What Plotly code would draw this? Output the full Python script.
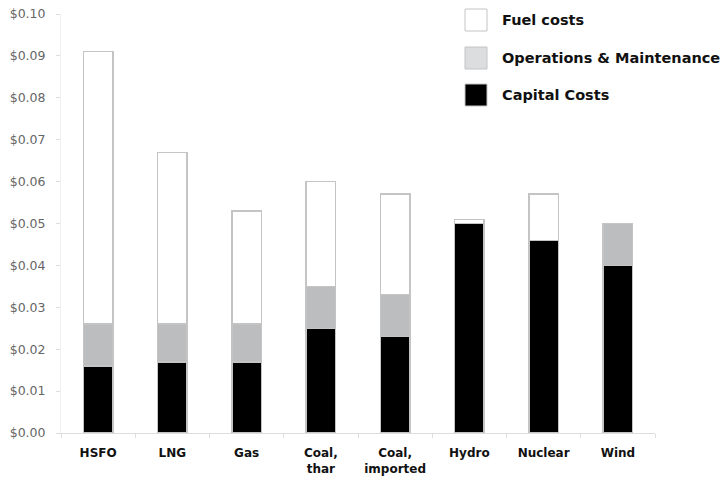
import plotly.graph_objects as go

# Levelised generation cost by technology (USD per kWh)
technologies = ["HSFO", "LNG", "Gas", "Coal,<br>thar", "Coal,<br>imported", "Hydro", "Nuclear", "Wind"]
capital_costs = [0.016, 0.017, 0.017, 0.025, 0.023, 0.050, 0.046, 0.040]
om_costs = [0.010, 0.009, 0.009, 0.010, 0.010, 0.000, 0.000, 0.010]
fuel_costs = [0.065, 0.041, 0.027, 0.025, 0.024, 0.001, 0.011, 0.000]

series_names = ["Fuel costs", "Operations & Maintenance", "Capital Costs"]
swatch_colors = ["#ffffff", "#dcdddf", "#000000"]
edge = "#c4c4c4"
font = "DejaVu Sans"

fig = go.Figure()
for name, vals, color in [
    ("Capital Costs", capital_costs, "#000000"),
    ("Operations & Maintenance", om_costs, "#bcbdbf"),
    ("Fuel costs", fuel_costs, "#ffffff"),
]:
    fig.add_trace(go.Bar(
        x=technologies, y=vals, name=name,
        marker=dict(color=color, line=dict(color=edge, width=1.5)),
        width=0.4, showlegend=False,
    ))

# Hand-drawn legend on the upper right
legend_y = [20, 58, 95]
for name, color, py in zip(series_names, swatch_colors, legend_y):
    y0 = (433 - (py + 11)) / 419
    y1 = (433 - (py - 11)) / 419
    fig.add_shape(type="rect", xref="paper", yref="paper",
                  x0=(465 - 61) / 594, x1=(487 - 61) / 594, y0=y0, y1=y1,
                  fillcolor=color, line=dict(color=edge, width=1))
    fig.add_annotation(xref="paper", yref="paper", x=(500 - 61) / 594,
                       y=(433 - py) / 419, text=f"<b>{name}</b>", showarrow=False,
                       xanchor="left", yanchor="middle",
                       font=dict(family=font, size=14.5, color="#111111"))

fig.update_layout(
    barmode="stack",
    width=723, height=478,
    margin=dict(l=61, r=68, t=14, b=45),
    paper_bgcolor="white", plot_bgcolor="white",
    bargap=0.6,
)
fig.update_xaxes(
    automargin=False,
    tickfont=dict(family=font, size=12, color="#111111"),
    showline=True, linecolor="#dddddd", linewidth=1,
    ticks="outside", tickson="boundaries", ticklen=4, tickcolor="#dddddd",
    ticklabelstandoff=9,
    showgrid=False,
    tickvals=technologies,
    ticktext=[f"<b>{t}</b>" for t in technologies],
)
fig.update_yaxes(
    automargin=False,
    range=[0, 0.1], dtick=0.01, tickformat="$.2f",
    tickfont=dict(family=font, size=12.5, color="#666666"),
    showline=True, linecolor="#f0f0f0", linewidth=1,
    ticks="outside", ticklen=4, tickcolor="#dddddd",
    ticklabelstandoff=8,
    showgrid=False, zeroline=False,
)

fig.write_html("out.html")
